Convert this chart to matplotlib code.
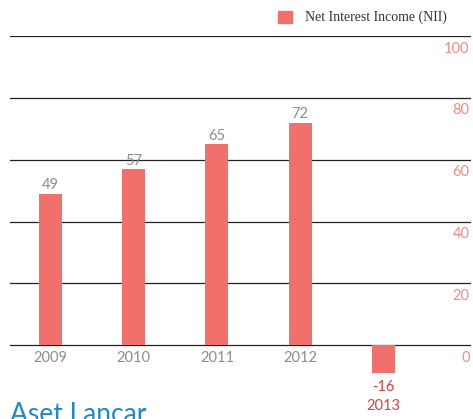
import matplotlib.pyplot as plt

years = ['2009', '2010', '2011', '2012', '2013']
nii = [49, 57, 65, 72, -16]
grid_ticks = [0, 20, 40, 60, 80, 100]

bar_color = '#f2706b'
tick_color = '#f48a84'
gray = '#8c8c8c'
neg_color = '#e23b3b'

fig = plt.figure(figsize=(4.73, 4.19), dpi=100)
ax = fig.add_axes([10 / 473, 1 - 373 / 419, 461 / 473, 337 / 419])
ax.set_xlim(-0.488, 5.054)
ax.set_ylim(-9, 100)

for t in grid_ticks:
    ax.axhline(t, color='#222222', lw=0.9, zorder=1)
    ax.annotate(str(t), xy=(1.0, t), xycoords=('axes fraction', 'data'),
                xytext=(-1, -4), textcoords='offset points', ha='right', va='top',
                color=tick_color, fontsize=10.5, family='Lato')

x = list(range(len(years)))
ax.bar(x, nii, width=0.277, color=bar_color, zorder=2)

for i, (yr, v) in enumerate(zip(years, nii)):
    if v >= 0:
        ax.annotate(str(v), xy=(i, v), xytext=(0, 1), textcoords='offset points',
                    ha='center', va='bottom', color=gray, fontsize=10.5, family='Lato')
        ax.annotate(yr, xy=(i, 0), xytext=(0, -9), textcoords='offset points',
                    ha='center', va='center', color=gray, fontsize=10.5, family='Lato')
    else:
        ax.annotate(str(v), xy=(i, 0), xytext=(0, -30), textcoords='offset points',
                    ha='center', va='center', color=neg_color, fontsize=10.5, family='Lato')
        ax.annotate(yr, xy=(i, 0), xytext=(0, -44), textcoords='offset points',
                    ha='center', va='center', color=neg_color, fontsize=10.5, family='Lato')

for s in ax.spines.values():
    s.set_visible(False)
ax.set_xticks([])
ax.set_yticks([])

# legend
fig.patches.append(plt.Rectangle((278 / 473, 1 - 23 / 419), 14 / 473, 12 / 419,
                                 transform=fig.transFigure, color=bar_color))
fig.text(305 / 473, 1 - 17 / 419, 'Net Interest Income (NII)', ha='left', va='center',
         color='#333333', fontsize=10, family='Liberation Serif')

fig.text(10 / 473, 1 - 402 / 419, 'Aset Lancar', ha='left', va='top',
         color='#1f86d0', fontsize=19, family='Lato')

fig.savefig('out.png', dpi=100)
